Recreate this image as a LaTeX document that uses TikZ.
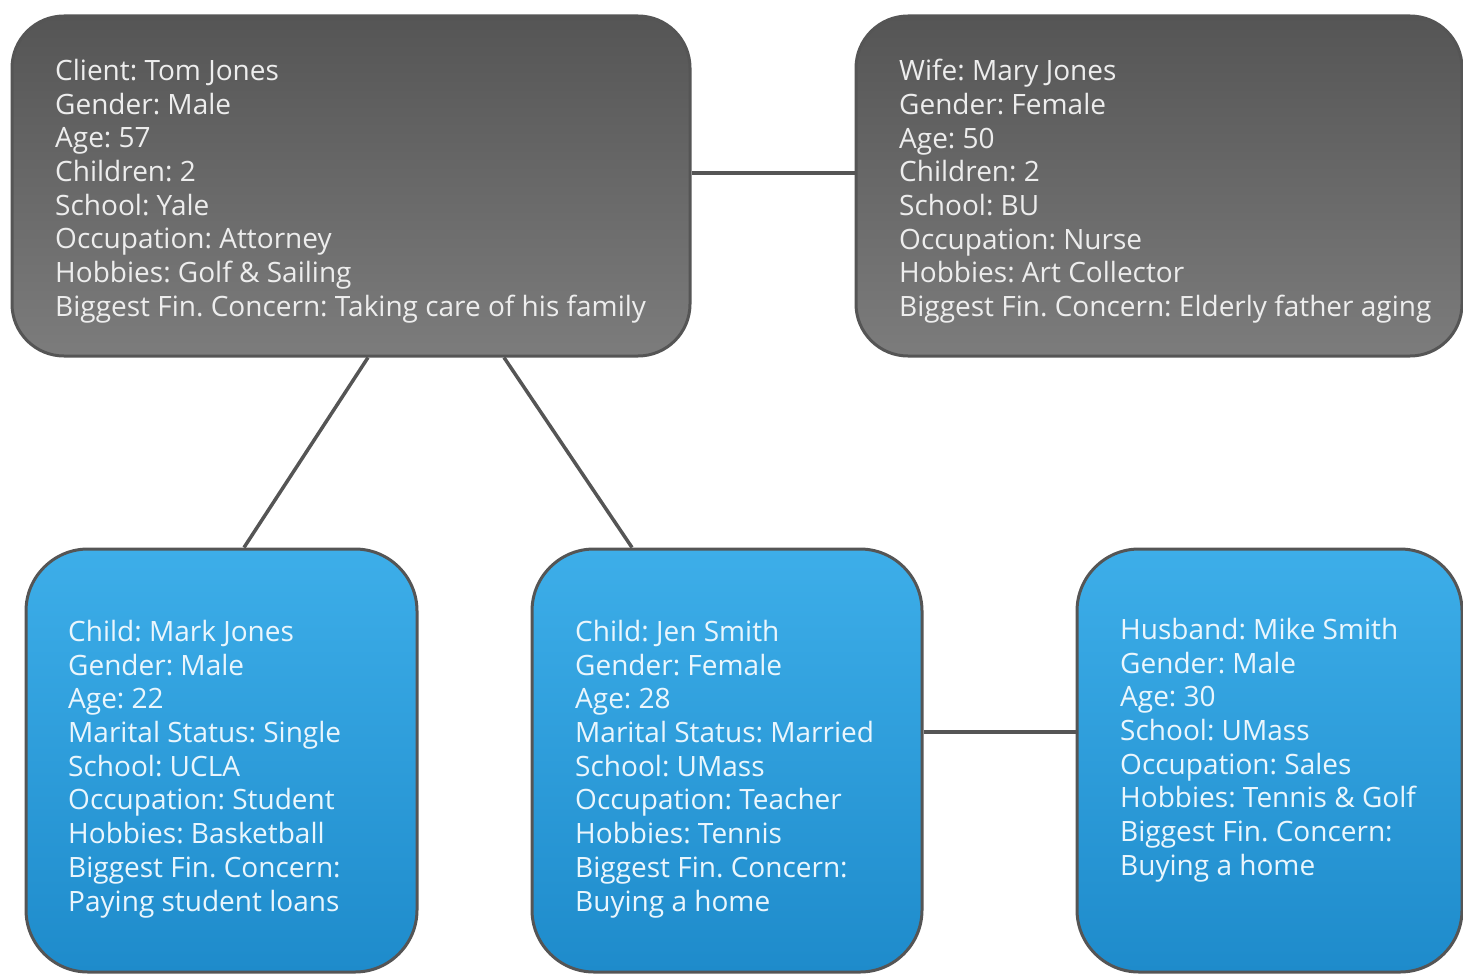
\documentclass[tikz,border=0pt]{standalone}
\usepackage{fontspec}
\setmainfont{Open Sans}
\frenchspacing
\definecolor{edge}{HTML}{555555}
\definecolor{graytop}{HTML}{555555}
\definecolor{graybot}{HTML}{7C7C7C}
\definecolor{bluetop}{HTML}{3DAEE9}
\definecolor{bluebot}{HTML}{1E8BCB}
\definecolor{txtgray}{HTML}{EDEDED}
\definecolor{txtblue}{HTML}{EAF6FD}
\begin{document}
\begin{tikzpicture}[x=1pt,y=-1pt,
  graybox/.style={draw=edge,line width=3pt,rounded corners=52pt,top color=graytop,bottom color=graybot,inner sep=0pt},
  bluebox/.style={draw=edge,line width=3pt,rounded corners=62pt,top color=bluetop,bottom color=bluebot,inner sep=0pt},
  info/.style={anchor=north west,align=left,inner sep=0pt,font=\fontsize{28}{33.7}\selectfont\frenchspacing},
  link/.style={draw=edge,line width=3.5pt}]
\useasboundingbox (0,0) rectangle (1463,974);
\node[graybox,minimum width=678pt,minimum height=340pt] (tl) at (351,186) {};
\node[graybox,minimum width=606pt,minimum height=340pt] (tr) at (1159,186) {};
\node[bluebox,minimum width=391pt,minimum height=423pt] (bl) at (221.5,760.5) {};
\node[bluebox,minimum width=390pt,minimum height=423pt] (bm) at (727,760.5) {};
\node[bluebox,minimum width=385pt,minimum height=423pt] (br) at (1269.5,760.5) {};
\draw[link] ([yshift=13pt]tl.east) -- ([yshift=13pt]tr.west);
\draw[link] ([xshift=17pt]tl.south) -- ([xshift=22.5pt]bl.north);
\draw[link] ([xshift=153pt]tl.south) -- ([xshift=-95pt]bm.north);
\draw[link] ([yshift=28.5pt]bm.east) -- ([yshift=28.5pt]br.west);
\node[info,text=txtgray] (tltext) at (55,59) {Client: Tom Jones\\Gender: Male\\Age: 57\\Children: 2\\School: Yale\\Occupation: Attorney\\Hobbies: Golf \& Sailing\\Biggest Fin. Concern: Taking care of his family};
\node[info,text=txtgray] (trtext) at (899,59) {Wife: Mary Jones\\Gender: Female\\Age: 50\\Children: 2\\School: BU\\Occupation: Nurse\\Hobbies: Art Collector\\Biggest Fin. Concern: Elderly father aging};
\node[info,text=txtblue] (bltext) at (68,620) {Child: Mark Jones\\Gender: Male\\Age: 22\\Marital Status: Single\\School: UCLA\\Occupation: Student\\Hobbies: Basketball\\Biggest Fin. Concern:\\Paying student loans};
\node[info,text=txtblue] (bmtext) at (575,620) {Child: Jen Smith\\Gender: Female\\Age: 28\\Marital Status: Married\\School: UMass\\Occupation: Teacher\\Hobbies: Tennis\\Biggest Fin. Concern:\\Buying a home};
\node[info,text=txtblue] (brtext) at (1120,618) {Husband: Mike Smith\\Gender: Male\\Age: 30\\School: UMass\\Occupation: Sales\\Hobbies: Tennis \& Golf\\Biggest Fin. Concern:\\Buying a home};
\end{tikzpicture}
\end{document}
